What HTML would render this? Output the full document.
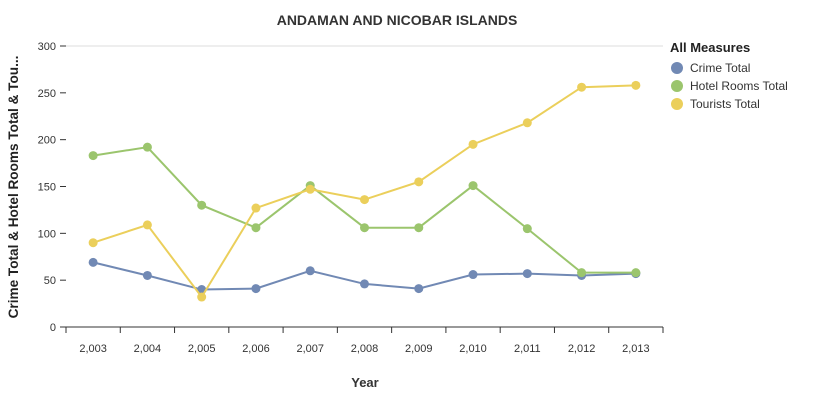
<!DOCTYPE html>
<html><head><meta charset="utf-8"><style>
body{margin:0;background:#fff;font-family:"Liberation Sans",Arial,sans-serif}
</style></head><body>
<svg id="c" width="819" height="400" font-family="Liberation Sans, Arial, sans-serif">
<text x="397" y="25" text-anchor="middle" font-size="14" font-weight="bold" fill="#333">ANDAMAN AND NICOBAR ISLANDS</text>
<text x="365" y="387" text-anchor="middle" font-size="13" font-weight="bold" fill="#333">Year</text>
<text transform="translate(18,187) rotate(-90)" text-anchor="middle" font-size="13.6" font-weight="bold" fill="#222">Crime Total &amp; Hotel Rooms Total &amp; Tou...</text>
<g id="axes"></g><g id="series"></g>
<g>
<text x="670" y="52" font-size="13" font-weight="bold" fill="#222">All Measures</text>
<g><circle cx="677" cy="68" r="6" fill="#7189b4"/><text x="690" y="72" font-size="12" fill="#333">Crime Total</text></g>
<g><circle cx="677" cy="86" r="6" fill="#9bc56d"/><text x="690" y="90" font-size="12" fill="#333">Hotel Rooms Total</text></g>
<g><circle cx="677" cy="104" r="6" fill="#ebcf5b"/><text x="690" y="108" font-size="12" fill="#333">Tourists Total</text></g>
</g>
</svg>
<script>
const years=["2,003","2,004","2,005","2,006","2,007","2,008","2,009","2,010","2,011","2,012","2,013"];
const crime=[69,55,40,41,60,46,41,56,57,55,57];
const hotel=[183,192,130,106,151,106,106,151,105,58,58];
const tourists=[90,109,32,127,147,136,155,195,218,256,258];
const yTicks=[0,50,100,150,200,250,300];
const NS="http://www.w3.org/2000/svg";
const x0=66,x1=663,y0=327,y1=46,ymax=300;
const bw=(x1-x0)/years.length;
const X=i=>x0+bw*(i+0.5);
const Y=v=>y0-(v/ymax)*(y0-y1);
function mk(t,a,p){const e=document.createElementNS(NS,t);for(const k in a)e.setAttribute(k,a[k]);p.appendChild(e);return e;}
const ax=document.getElementById('axes'),se=document.getElementById('series');
mk('line',{x1:x0,x2:x1,y1:Y(300),y2:Y(300),stroke:'#ddd'},ax);
yTicks.forEach(v=>{
 mk('line',{x1:60,x2:66,y1:Y(v),y2:Y(v),stroke:'#333'},ax);
 const t=mk('text',{x:56,y:Y(v)+4,'text-anchor':'end','font-size':11,fill:'#333'},ax);t.textContent=v;
 
 
});
mk('line',{x1:x0,x2:x1,y1:y0,y2:y0,stroke:'#333'},ax);
for(let i=0;i<=years.length;i++)mk('line',{x1:x0+bw*i,x2:x0+bw*i,y1:y0,y2:y0+6,stroke:'#333'},ax);
years.forEach((y,i)=>{const t=mk('text',{x:X(i),y:352,'text-anchor':'middle','font-size':11,fill:'#333'},ax);t.textContent=y;
 
 });
[[crime,'#7189b4','crime'],[hotel,'#9bc56d','hotel'],[tourists,'#ebcf5b','tourists']].forEach(([d,c,n])=>{
 const p=mk('polyline',{points:d.map((v,i)=>X(i)+','+Y(v)).join(' '),fill:'none',stroke:c,'stroke-width':2},se);
 
 
 d.forEach((v,i)=>{const m=mk('circle',{cx:X(i),cy:Y(v),r:4.5,fill:c},se);
  
  });
});
</script>
</body></html>
